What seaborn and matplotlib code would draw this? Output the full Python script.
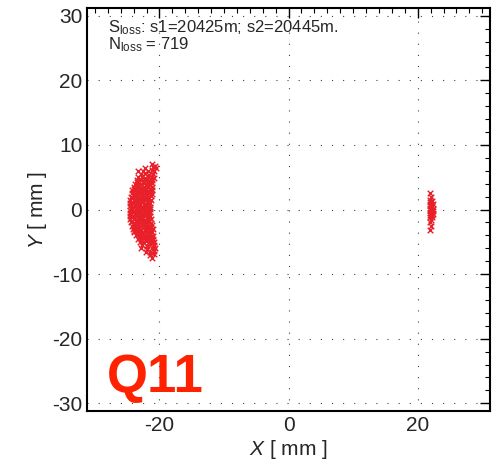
import matplotlib
matplotlib.use("Agg")
import matplotlib.pyplot as plt
from matplotlib.ticker import MultipleLocator, FixedLocator
import seaborn as sns
import pandas as pd

# Loss positions near the beam pipe, left bunch (x ~ -22 mm)
left_x = [
    -21.2, -20.7,
    -22.3, -21.0, -20.6,
    -22.6, -21.8, -21.2, -20.8,
    -23.3, -22.9, -22.2, -21.6, -21.0,
    -23.3, -22.7, -22.2, -21.7, -21.2, -20.9,
    -23.4, -22.9, -22.5, -22.0, -21.6, -21.1,
    -23.8, -23.3, -22.9, -22.4, -22.0, -21.5, -21.1,
    -24.0, -23.5, -23.1, -22.6, -22.2, -21.7, -21.2,
    -24.2, -23.8, -23.3, -22.9, -22.4, -22.0, -21.5, -21.1,
    -24.3, -23.9, -23.4, -23.0, -22.5, -22.1, -21.6, -21.2,
    -24.4, -24.0, -23.5, -23.1, -22.6, -22.2, -21.7, -21.3,
    -24.5, -24.0, -23.6, -23.1, -22.7, -22.2, -21.8, -21.3,
    -24.5, -24.1, -23.6, -23.2, -22.7, -22.3, -21.8, -21.4,
    -24.6, -24.1, -23.7, -23.2, -22.8, -22.3, -21.9, -21.4,
    -24.6, -24.2, -23.7, -23.3, -22.8, -22.4, -21.9, -21.4,
    -24.6, -24.1, -23.7, -23.2, -22.8, -22.3, -21.9, -21.4,
    -24.5, -24.1, -23.6, -23.2, -22.7, -22.3, -21.8, -21.4,
    -24.5, -24.0, -23.6, -23.1, -22.7, -22.2, -21.8, -21.3,
    -24.4, -24.0, -23.5, -23.1, -22.6, -22.2, -21.7, -21.3,
    -24.3, -23.9, -23.4, -23.0, -22.5, -22.1, -21.6, -21.2,
    -24.1, -23.7, -23.2, -22.8, -22.3, -21.9, -21.4, -21.0,
    -23.9, -23.4, -23.0, -22.5, -22.1, -21.6, -21.1,
    -23.6, -23.2, -22.7, -22.3, -21.8, -21.4, -21.0,
    -23.3, -22.9, -22.4, -22.0, -21.5, -21.0,
    -23.0, -22.5, -22.1, -21.6, -21.1, -20.8,
    -22.7, -22.0, -21.4, -20.9,
    -22.8, -21.9, -21.2, -20.7,
    -22.1, -21.4, -20.8,
    -21.5, -20.9,
    -21.1,
    # interleaved core points
    -23.9, -23.0, -22.1, -21.3, -24.3, -23.4, -22.5, -21.6,
    -24.4, -23.5, -22.6, -21.7, -24.4, -23.5, -22.6, -21.7,
    -24.3, -23.4, -22.5, -21.6, -23.9, -23.0, -22.1, -21.3,
    -23.4, -22.6, -21.8, -22.9, -22.0, -21.3,
]
left_y = [
    7.0, 6.8,
    6.5, 6.6, 6.4,
    6.0, 5.9, 6.1, 6.0,
    5.9, 5.5, 5.6, 5.4, 5.5,
    5.0, 5.1, 4.9, 5.0, 5.1, 4.95,
    4.5, 4.6, 4.4, 4.55, 4.45, 4.6,
    4.0, 4.1, 3.95, 4.05, 3.9, 4.0, 4.1,
    3.5, 3.45, 3.6, 3.5, 3.4, 3.55, 3.5,
    3.0, 3.05, 2.95, 3.1, 3.0, 2.9, 3.05, 3.0,
    2.5, 2.45, 2.55, 2.5, 2.4, 2.6, 2.5, 2.45,
    2.0, 2.05, 1.95, 2.0, 2.1, 1.9, 2.0, 2.05,
    1.5, 1.45, 1.55, 1.5, 1.4, 1.5, 1.6, 1.5,
    1.0, 1.05, 0.95, 1.0, 1.1, 0.9, 1.0, 1.05,
    0.5, 0.45, 0.55, 0.5, 0.4, 0.6, 0.5, 0.45,
    0.0, 0.05, -0.05, 0.0, 0.1, -0.1, 0.0, 0.05,
    -0.5, -0.45, -0.55, -0.5, -0.4, -0.6, -0.5, -0.45,
    -1.0, -1.05, -0.95, -1.0, -1.1, -0.9, -1.0, -1.05,
    -1.5, -1.45, -1.55, -1.5, -1.4, -1.6, -1.5, -1.45,
    -2.0, -2.05, -1.95, -2.0, -2.1, -1.9, -2.0, -2.05,
    -2.5, -2.45, -2.55, -2.5, -2.4, -2.6, -2.5, -2.45,
    -3.0, -3.05, -2.95, -3.1, -3.0, -2.9, -3.05, -3.0,
    -3.5, -3.45, -3.6, -3.5, -3.4, -3.55, -3.5,
    -4.0, -4.1, -3.95, -4.05, -3.9, -4.0, -4.1,
    -4.5, -4.6, -4.4, -4.55, -4.45, -4.6,
    -5.0, -5.1, -4.9, -5.0, -5.1, -4.95,
    -5.5, -5.6, -5.4, -5.5,
    -6.0, -6.1, -5.9, -6.0,
    -6.5, -6.6, -6.4,
    -7.0, -6.9,
    -7.5,
    # interleaved core points
    3.25, 3.3, 3.2, 3.25, 1.75, 1.8, 1.7, 1.75,
    0.25, 0.3, 0.2, 0.25, -0.75, -0.8, -0.7, -0.75,
    -1.75, -1.8, -1.7, -1.75, -3.25, -3.3, -3.2, -3.25,
    4.25, 4.3, 4.2, -4.25, -4.3, -4.2,
]

# Right bunch (x ~ +22 mm)
right_x = [21.9, 22.0, 21.9, 22.2, 21.9, 22.3, 21.9, 22.2, 21.9, 22.3,
           21.9, 22.2, 21.9, 22.3, 21.9, 22.2, 21.9, 22.3, 22.0, 22.2,
           22.1, 21.9, 22.0, 21.9]
right_y = [2.5, 2.0, 1.5, 1.3, 1.1, 0.9, 0.7, 0.5, 0.3, 0.1,
           -0.1, -0.3, -0.5, -0.7, -0.9, -1.1, -1.2, -0.2, 0.8, -0.8,
           -1.6, -2.0, -2.6, -3.2]

info_lines = [r"$\mathrm{S_{loss}}$: s1=20425m; s2=20445m.",
              r"$\mathrm{N_{loss}}$ = 719"]
tag = "Q11"
x_major = [-20, 0, 20]

df = pd.DataFrame({"x": left_x + right_x, "y": left_y + right_y})

sns.set_style("white")
plt.rcParams["font.family"] = ["Liberation Sans", "DejaVu Sans"]
plt.rcParams["mathtext.fontset"] = "custom"
plt.rcParams["mathtext.rm"] = "Liberation Sans"
plt.rcParams["mathtext.it"] = "Liberation Sans:italic"
plt.rcParams["axes.unicode_minus"] = False

fig = plt.figure(figsize=(4.95, 4.73), dpi=100)
ax = fig.add_axes([0.176, 0.131, 0.814, 0.852])

sns.scatterplot(data=df, x="x", y="y", marker="x", color="#e8202a",
                s=16, linewidth=1.0, ax=ax, legend=False)

ax.set_xlim(-31.2, 31.2)
ax.set_ylim(-31.2, 31.2)
ax.xaxis.set_major_locator(FixedLocator(x_major))
ax.xaxis.set_minor_locator(MultipleLocator(2))
ax.yaxis.set_major_locator(MultipleLocator(10))
ax.yaxis.set_minor_locator(MultipleLocator(2))
ax.tick_params(which="both", direction="in", top=True, right=True,
               color="black", labelsize=15)
ax.tick_params(which="major", length=7, width=1.0)
ax.tick_params(which="minor", length=3.5, width=0.8)
for s in ax.spines.values():
    s.set_linewidth(1.5)
    s.set_color("black")

ax.grid(True, which="major", linestyle=(0, (1, 9)), color="#444444",
        linewidth=0.8)

ax.set_xlabel(r"$\mathit{X}$ [ mm ]", fontsize=15, labelpad=2)
ax.set_ylabel(r"$\mathit{Y}$ [ mm ]", fontsize=15, labelpad=2)

ax.text(0.052, 0.975, info_lines[0], transform=ax.transAxes, fontsize=12,
        va="top", ha="left")
ax.text(0.052, 0.932, info_lines[1], transform=ax.transAxes, fontsize=12,
        va="top", ha="left")
ax.text(0.05, 0.02, tag, transform=ax.transAxes, fontsize=38,
        fontweight="bold", color="#ff2200", va="bottom", ha="left")

fig.savefig("out.png", dpi=100)
